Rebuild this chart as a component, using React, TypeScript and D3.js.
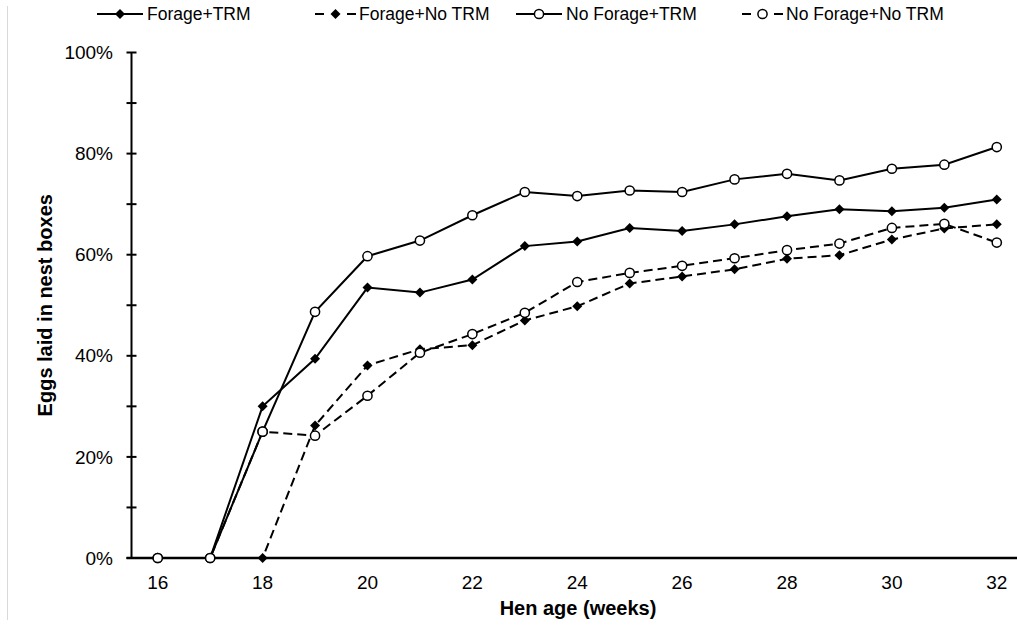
import { useEffect } from 'react'
import * as d3 from 'd3'

// Hen age (weeks) on the x axis
const weeks = [16, 17, 18, 19, 20, 21, 22, 23, 24, 25, 26, 27, 28, 29, 30, 31, 32]

// % of eggs laid in nest boxes
const forageTrm = [0, 0, 30.0, 39.4, 53.5, 52.5, 55.1, 61.7, 62.6, 65.3, 64.7, 66.0, 67.6, 69.0, 68.6, 69.3, 70.9]
const forageNoTrm = [0, 0, 0, 26.2, 38.1, 41.3, 42.1, 47.0, 49.8, 54.3, 55.7, 57.1, 59.2, 59.9, 63.0, 65.2, 66.0]
const noForageTrm = [0, 0, 25.0, 48.7, 59.7, 62.8, 67.8, 72.4, 71.6, 72.7, 72.4, 74.9, 76.0, 74.7, 77.0, 77.8, 81.3]
const noForageNoTrm = [0, 0, 25.0, 24.2, 32.1, 40.6, 44.3, 48.5, 54.6, 56.4, 57.8, 59.3, 60.9, 62.2, 65.3, 66.1, 62.4]

const xTicks = [16, 18, 20, 22, 24, 26, 28, 30, 32]
const yTicks = [0, 10, 20, 30, 40, 50, 60, 70, 80, 90, 100]
const yLabels = [0, 20, 40, 60, 80, 100]

const SERIES = [
  { name: 'Forage+TRM', values: forageTrm, dashed: false, marker: 'diamond', legendX: 97 },
  { name: 'Forage+No TRM', values: forageNoTrm, dashed: true, marker: 'diamond', legendX: 315 },
  { name: 'No Forage+TRM', values: noForageTrm, dashed: false, marker: 'circle', legendX: 516 },
  { name: 'No Forage+No TRM', values: noForageNoTrm, dashed: true, marker: 'circle', legendX: 742 },
]

const W = 1017
const H = 625
const FONT = '"Liberation Sans", Arial, sans-serif'

function Marker({ type, x, y }: { type: string; x: number; y: number }) {
  if (type === 'diamond') {
    const s = 5
    return <path d={`M${x},${y - s}L${x + s},${y}L${x},${y + s}L${x - s},${y}Z`} fill="#000" />
  }
  return <circle cx={x} cy={y} r={4.6} fill="#fff" stroke="#000" strokeWidth={1.5} />
}

export default function App() {
  useEffect(() => {
    document.body.style.margin = '0'
  }, [])

  const x = d3.scaleLinear().domain([15.5, 32.5]).range([131.5, 1023])
  const y = d3.scaleLinear().domain([0, 100]).range([558, 52.5])

  const line = d3.line<number>()
    .x((_, i) => x(weeks[i]))
    .y(d => y(d))

  const axisX = x(15.5)

  return (
    <svg width={W} height={H} style={{ display: 'block', background: '#fff' }} fontFamily={FONT}>
      {/* faint frame edge on the left */}
      <line x1={7.5} x2={7.5} y1={6} y2={620} stroke="#d9d9d9" strokeWidth={1} />

      {/* y axis */}
      <line x1={axisX} x2={axisX} y1={y(100)} y2={y(0)} stroke="#000" strokeWidth={2} />
      {yTicks.map(t => (
        <line key={t} x1={axisX - 5} x2={t === 0 ? axisX : axisX + 5} y1={y(t)} y2={y(t)} stroke="#000" strokeWidth={2} />
      ))}
      {yLabels.map(t => (
        <text key={t} x={113} y={y(t)} dy="0.35em" textAnchor="end" fontSize={19} fill="#000">
          {t}%
        </text>
      ))}

      {/* x axis */}
      <line x1={axisX - 5} x2={W} y1={y(0)} y2={y(0)} stroke="#000" strokeWidth={2.5} />
      {xTicks.map(t => (
        <text key={t} x={x(t)} y={589} textAnchor="middle" fontSize={19} fill="#000">
          {t}
        </text>
      ))}

      {/* axis titles */}
      <text x={578} y={615} textAnchor="middle" fontSize={20} fontWeight="bold">Hen age (weeks)</text>
      <text transform={`translate(52,${y(50)}) rotate(-90)`} textAnchor="middle" fontSize={20} fontWeight="bold">
        Eggs laid in nest boxes
      </text>

      {/* series */}
      {SERIES.map(s => (
        <g key={s.name}>
          <path
            d={line(s.values) || ''}
            fill="none"
            stroke="#000"
            strokeWidth={2}
            strokeDasharray={s.dashed ? '9,5' : undefined}
          />
          {s.values.map((v, i) => (
            <Marker key={i} type={s.marker} x={x(weeks[i])} y={y(v)} />
          ))}
        </g>
      ))}

      {/* legend */}
      {SERIES.map(s => {
        const lx = s.legendX
        const ly = 14
        return (
          <g key={s.name}>
            {s.dashed ? (
              <>
                <line x1={lx} x2={lx + 9} y1={ly} y2={ly} stroke="#000" strokeWidth={2} />
                <line x1={lx + 32} x2={lx + 41} y1={ly} y2={ly} stroke="#000" strokeWidth={2} />
              </>
            ) : (
              <line x1={lx} x2={lx + 46} y1={ly} y2={ly} stroke="#000" strokeWidth={2} />
            )}
            <Marker type={s.marker} x={lx + (s.dashed ? 20.5 : 23)} y={ly} />
            <text x={lx + (s.dashed ? 44 : 50)} y={ly} dy="0.35em" fontSize={17.5} fill="#000">
              {s.name}
            </text>
          </g>
        )
      })}
    </svg>
  )
}
